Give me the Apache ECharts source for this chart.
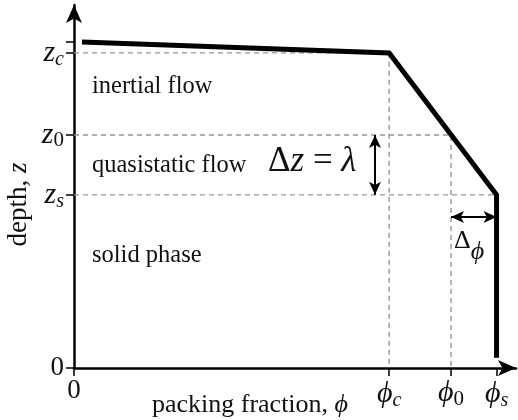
<!DOCTYPE html>
<html>
<head>
<meta charset="utf-8">
<title>Depth profile of packing fraction</title>
<script src="https://cdn.jsdelivr.net/npm/echarts@6/dist/echarts.min.js"></script>
<style>
  html, body { margin: 0; padding: 0; background: #fff; }
  #chart { width: 518px; height: 420px; }
</style>
</head>
<body>
<div id="chart"></div>
<script>
// Characteristic packing fractions (schematic units, axis 0..100)
const phiC = 71.3;
const phi0 = 85.3;
const phiS = 95.6;

// Characteristic depths (schematic units, axis 0..100)
const zTop = 89.8;
const zC = 86.8;
const z0 = 64.2;
const zS = 47.7;
const zBottom = 2.8;

// Packing-fraction profile phi(z)
const profilePhi = [1.8, phiC, phiS, phiS];
const profileDepth = [zTop, zC, zS, zBottom];

// Tick positions and their labels
const xTickValues = [0, phiC, phi0, phiS];
const xTickLabels = ['{n|0}', '{m|ϕ}{si|c}', '{m|ϕ}{su|0}', '{m|ϕ}{si|s}'];
const yTickValues = [0, zS, z0, zC, zTop];
const yLabelValues = [0, zS, z0, zC];
const yTickLabels = ['{n|0}', '{m|z}{si|s}', '{m|z}{su|0}', '{m|z}{si|c}'];

// Region names
const regionNames = ['inertial flow', 'quasistatic flow', 'solid phase'];

// Double arrows: depth span (Δz) and packing-fraction span (Δϕ)
const dzArrowPhi = 68.1;
const dphiArrowDepth = 41.6;

const SERIF = '"Liberation Serif", "DejaVu Serif", serif';

function pickLabel(values, labels, v) {
  for (let i = 0; i < values.length; i++) {
    if (Math.abs(values[i] - v) < 1e-6) return labels[i];
  }
  return '';
}

const tickRich = {
  n: { fontFamily: SERIF, fontSize: 27, color: '#111' },
  m: { fontFamily: SERIF, fontSize: 30, fontStyle: 'italic', color: '#111' },
  si: { fontFamily: SERIF, fontSize: 20, fontStyle: 'italic', color: '#111', padding: [14, 0, 0, 0] },
  su: { fontFamily: SERIF, fontSize: 21, color: '#111', padding: [12, 0, 0, 0] }
};

const dashStyle = { color: '#959595', width: 1.4, type: [5, 4] };

function guide(points) {
  return {
    type: 'line',
    data: points,
    symbol: 'none',
    silent: true,
    lineStyle: dashStyle,
    z: 1
  };
}

const chart = echarts.init(document.getElementById('chart'), null, { renderer: 'canvas' });

chart.setOption({
  animation: false,
  backgroundColor: '#ffffff',
  grid: { left: 74, right: 2, top: 5, bottom: 52, containLabel: false, outerBoundsMode: 'none' },
  xAxis: {
    type: 'value',
    min: 0,
    max: 100,
    name: '{t|packing fraction, }{m|ϕ}',
    nameLocation: 'middle',
    nameGap: 24,
    nameMoveOverlap: false,
    nameTextStyle: {
      padding: [0, 90, 0, 0],
      rich: {
        t: { fontFamily: SERIF, fontSize: 26, color: '#111' },
        m: { fontFamily: SERIF, fontSize: 26, fontStyle: 'italic', color: '#111' }
      }
    },
    axisLine: {
      onZero: false,
      symbol: ['none', 'arrow'],
      symbolSize: [12, 18],
      lineStyle: { color: '#000', width: 2.5 }
    },
    axisTick: { show: true, length: 8, customValues: xTickValues, lineStyle: { color: '#000', width: 1.5 } },
    axisLabel: {
      customValues: xTickValues,
      margin: 9,
      formatter: v => pickLabel(xTickValues, xTickLabels, v),
      rich: tickRich
    },
    splitLine: { show: false }
  },
  yAxis: {
    type: 'value',
    min: 0,
    max: 100,
    name: '{t|depth, }{m|z}',
    nameLocation: 'middle',
    nameRotate: 90,
    nameGap: 42,
    nameMoveOverlap: false,
    nameTextStyle: {
      padding: [0, 36, 0, 0],
      rich: {
        t: { fontFamily: SERIF, fontSize: 27, color: '#111' },
        m: { fontFamily: SERIF, fontSize: 27, fontStyle: 'italic', color: '#111' }
      }
    },
    axisLine: {
      onZero: false,
      symbol: ['none', 'arrow'],
      symbolSize: [12, 18],
      lineStyle: { color: '#000', width: 2.5 }
    },
    axisTick: { show: true, length: 8, customValues: yTickValues, lineStyle: { color: '#000', width: 1.5 } },
    axisLabel: {
      customValues: yLabelValues,
      margin: 10,
      formatter: v => pickLabel(yLabelValues, yTickLabels, v),
      rich: tickRich
    },
    splitLine: { show: false }
  },
  series: [
    guide([[0, zC], [phiC, zC], [phiC, 0]]),
    guide([[0, z0], [phi0, z0], [phi0, 0]]),
    guide([[0, zS], [phiS, zS]]),
    {
      type: 'line',
      data: [],
      silent: true,
      markLine: {
        silent: true,
        symbol: ['arrow', 'arrow'],
        symbolSize: [9, 13],
        label: { show: false },
        lineStyle: { color: '#000', width: 2, type: 'solid' },
        data: [
          [{ coord: [dzArrowPhi, z0] }, { coord: [dzArrowPhi, zS] }],
          [{ coord: [phi0, dphiArrowDepth] }, { coord: [phiS, dphiArrowDepth] }]
        ]
      }
    },
    {
      type: 'line',
      data: profilePhi.map((p, i) => [p, profileDepth[i]]),
      symbol: 'none',
      silent: true,
      lineStyle: { color: '#000', width: 5, join: 'miter', cap: 'butt' },
      z: 5
    }
  ],
  graphic: [
    { type: 'text', left: 92, top: 74, style: { text: regionNames[0], font: '24.5px ' + SERIF, fill: '#111' } },
    { type: 'text', left: 92, top: 153, style: { text: regionNames[1], font: '24.5px ' + SERIF, fill: '#111' } },
    { type: 'text', left: 92, top: 243, style: { text: regionNames[2], font: '24.5px ' + SERIF, fill: '#111' } },
    {
      type: 'text', left: 268, top: 144,
      style: {
        text: '{d|Δ}{m|z}{e| = }{m|λ}',
        rich: {
          d: { fontFamily: SERIF, fontSize: 35, fill: '#111' },
          m: { fontFamily: SERIF, fontSize: 35, fontStyle: 'italic', fill: '#111' },
          e: { fontFamily: SERIF, fontSize: 35, fill: '#111' }
        }
      }
    },
    {
      type: 'text', left: 454, top: 228,
      style: {
        text: '{d|Δ}{s|ϕ}',
        rich: {
          d: { fontFamily: SERIF, fontSize: 26, fill: '#111' },
          s: { fontFamily: SERIF, fontSize: 26, fontStyle: 'italic', fill: '#111', padding: [22, 0, 0, 0] }
        }
      }
    }
  ]
});
</script>
</body>
</html>
